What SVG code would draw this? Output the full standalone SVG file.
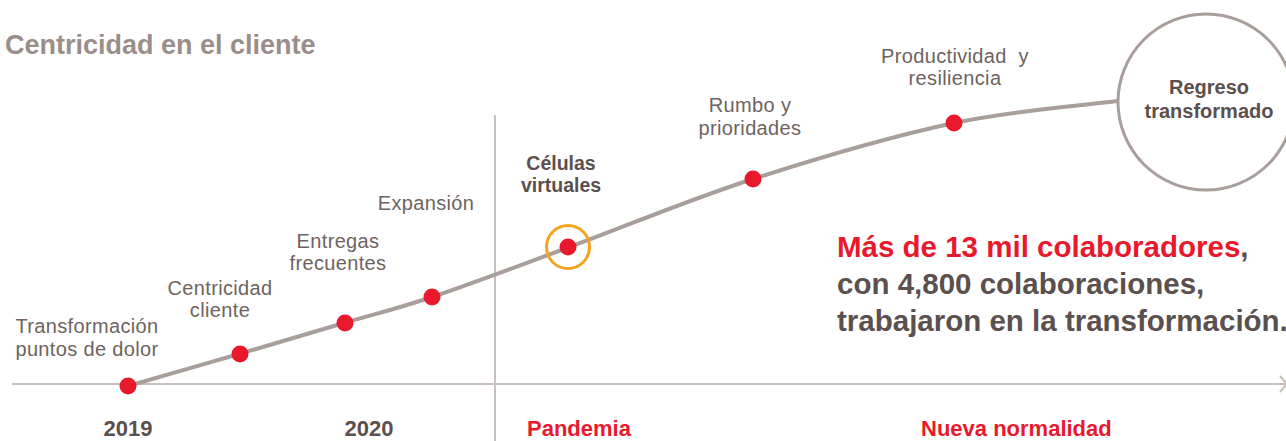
<svg xmlns="http://www.w3.org/2000/svg" width="1286" height="441" viewBox="0 0 1286 441">
<style>
.lbl{font-family:"Liberation Sans",Arial,sans-serif;font-size:20px;fill:#6e6360;text-anchor:middle;letter-spacing:0.35px}
.bld{font-family:"Liberation Sans",Arial,sans-serif;font-weight:bold;fill:#5b504d}
.red{fill:#e8192c}
.dot{fill:#e8192c}
.axis{stroke:#c8c0be;stroke-width:2;fill:none}
</style>
<rect width="1286" height="441" fill="#ffffff"/>
<text x="5" y="54" class="bld" style="font-size:27px;fill:#9a8e8b">Centricidad en el cliente</text>
<g id="axes">
<line class="axis" x1="12" y1="384" x2="1286" y2="384"/>
<line class="axis" x1="495" y1="115" x2="495" y2="441"/>
<polyline class="axis" points="1280,376 1287,384 1280,392"/>
</g>
<g id="connectors">
<path d="M128,386 C146.5,380.7 203,364.5 239,354 C275,343.5 311.8,332.5 344,323 C376.2,313.5 394.8,309.5 432,297 C469.2,284.5 513.5,267.7 567,248 C620.5,228.3 688.5,199.8 753,179 C817.5,158.2 893.2,136 954,123 C1014.8,110 1090.7,104.7 1118,101" fill="none" stroke="#a89e9b" stroke-width="4"/>
</g>
<g id="n-transformacion">
<circle class="dot" cx="128" cy="386" r="8.5"/>
<text class="lbl" x="87" y="333">Transformación</text>
<text class="lbl" x="87" y="356">puntos de dolor</text>
</g>
<g id="n-centricidad">
<circle class="dot" cx="240" cy="354" r="8.5"/>
<text class="lbl" x="220" y="295">Centricidad</text>
<text class="lbl" x="220" y="317">cliente</text>
</g>
<g id="n-entregas">
<circle class="dot" cx="345" cy="323" r="8.5"/>
<text class="lbl" x="338" y="248">Entregas</text>
<text class="lbl" x="338" y="270">frecuentes</text>
</g>
<g id="n-expansion">
<circle class="dot" cx="432" cy="297" r="8.5"/>
<text class="lbl" x="426" y="210">Expansión</text>
</g>
<g id="n-celulas">
<circle cx="568" cy="247" r="21.5" fill="none" stroke="#f5a21e" stroke-width="3"/>
<circle class="dot" cx="568" cy="247" r="8.5"/>
<text class="bld" x="561" y="170" style="font-size:19.5px" text-anchor="middle">Células</text>
<text class="bld" x="561" y="192" style="font-size:19.5px" text-anchor="middle">virtuales</text>
</g>
<g id="n-rumbo">
<circle class="dot" cx="753" cy="179" r="8.5"/>
<text class="lbl" x="750" y="112">Rumbo y</text>
<text class="lbl" x="750" y="135">prioridades</text>
</g>
<g id="n-productividad">
<circle class="dot" cx="954" cy="123" r="8.5"/>
<text class="lbl" x="955" y="63" xml:space="preserve">Productividad  y</text>
<text class="lbl" x="955" y="85">resiliencia</text>
</g>
<g id="n-regreso">
<circle cx="1206" cy="102" r="88" fill="#ffffff" stroke="#a89e9b" stroke-width="3"/>
<text class="bld" x="1209" y="94" style="font-size:20px" text-anchor="middle">Regreso</text>
<text class="bld" x="1209" y="118" style="font-size:20px" text-anchor="middle">transformado</text>
</g>
<g id="summary">
<text class="bld" x="837" y="257" style="font-size:29.5px"><tspan class="red">Más de 13 mil colaboradores</tspan>,</text>
<text class="bld" x="837" y="294" style="font-size:29.5px">con 4,800 colaboraciones,</text>
<text class="bld" x="837" y="331" style="font-size:29.5px">trabajaron en la transformación.</text>
</g>
<g id="timeline-labels">
<text class="bld" x="128" y="436" style="font-size:22px" text-anchor="middle">2019</text>
<text class="bld" x="369" y="436" style="font-size:22px" text-anchor="middle">2020</text>
<text class="bld red" x="527" y="436" style="font-size:22px">Pandemia</text>
<text class="bld red" x="921" y="436" style="font-size:22px">Nueva normalidad</text>
</g>
</svg>
